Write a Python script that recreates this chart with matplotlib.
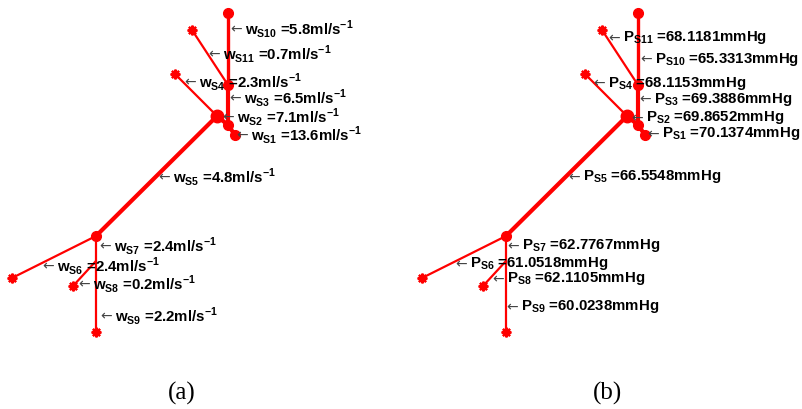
import numpy as np
import matplotlib
matplotlib.use("Agg")
import matplotlib.pyplot as plt

plt.rcParams['mathtext.fontset'] = 'custom'
plt.rcParams['mathtext.rm'] = 'Liberation Sans'
plt.rcParams['mathtext.bf'] = 'Liberation Sans:bold'
plt.rcParams['font.family'] = ['Liberation Sans', 'DejaVu Sans']

# vessel tree geometry (node x, y, y pointing down)
node_x = [235, 228, 217, 228, 228, 192, 175, 96, 12, 96, 73, 96]
node_y = [136, 126, 117, 86, 14, 31, 75, 237, 279, 262, 287, 333]

segments = ["S1", "S2", "S3", "S4", "S5", "S6", "S7", "S8", "S9", "S10", "S11"]
seg_start = [0, 1, 1, 2, 2, 7, 7, 9, 9, 3, 3]
seg_end = [1, 2, 3, 6, 7, 8, 9, 10, 11, 4, 5]
seg_width = [3.0, 3.0, 3.0, 1.6, 3.0, 1.6, 1.6, 1.6, 1.6, 2.4, 1.6]

joint_nodes = [0, 1, 2, 3, 4, 7]
joint_size = [7, 7, 9, 7, 7, 7]
end_nodes = [5, 6, 8, 10, 11]

# flow rates (ml/s) and pressures (mmHg)
flow = [13.6, 7.1, 6.5, 2.3, 4.8, 2.4, 2.4, 0.2, 2.2, 5.8, 0.7]
pressure = [70.1374, 69.8652, 69.3886, 68.1153, 66.5548, 61.0518,
            62.7767, 62.1105, 60.0238, 65.3313, 68.1181]

# label anchor points
flow_lx = [236, 222, 229, 184, 158, 42, 99, 78, 100, 230, 208]
flow_ly = [135, 117, 98, 82, 177, 266, 246, 284, 316, 29, 54]
pres_lx = [237, 221, 229, 183, 158, 45, 97, 82, 96, 230, 198]
pres_ly = [134, 118, 99, 83, 177, 264, 246, 279, 307, 59, 38]

fig = plt.figure(figsize=(8.02, 4.10), dpi=100)
ax_a = fig.add_axes([0, 0, 0.5, 1])
ax_b = fig.add_axes([0.5, 0, 0.5, 1])


def draw_tree(ax, x0):
    ax.set_xlim(x0, x0 + 401)
    ax.set_ylim(410, 0)
    ax.axis('off')
    for s, e, lw in zip(seg_start, seg_end, seg_width):
        ax.plot([node_x[s], node_x[e]], [node_y[s], node_y[e]],
                color='#ff0000', lw=lw, solid_capstyle='round', zorder=2)
    for n, ms in zip(joint_nodes, joint_size):
        ax.plot(node_x[n], node_y[n], 'o', color='#ff0000', ms=ms,
                mec='#ff0000', zorder=3)
    for n in end_nodes:
        ax.plot(node_x[n], node_y[n], marker=(8, 2, 0), color='#ff0000',
                ms=7, mew=1.6, zorder=3)


def put_label(ax, x, y, lab):
    # thin left arrow pointing at the segment, bold label right of it
    ax.text(x, y, '\u2190', family='DejaVu Sans', fontsize=10,
            color='#444444', ha='left', va='center', zorder=4)
    ax.annotate(lab, xy=(x, y), xytext=(15, 0), textcoords='offset pixels',
                fontsize=10.8, fontweight='bold', ha='left', va='center',
                zorder=4)


draw_tree(ax_a, 0)
draw_tree(ax_b, -9)

for seg, v, x, y in zip(segments, flow, flow_lx, flow_ly):
    lab = (r'$\mathbf{w}_{\mathbf{' + seg + r'}}$ =' +
           f'{v}ml/s' + r'$^{\mathbf{-1}}$')
    put_label(ax_a, x, y, lab)

for seg, v, x, y in zip(segments, pressure, pres_lx, pres_ly):
    lab = r'$\mathbf{P}_{\mathbf{' + seg + r'}}$ =' + f'{v:.4f}mmHg'
    put_label(ax_b, x, y, lab)

fig.text(182 / 802, 1 - 393 / 410, '(a)', family='Liberation Serif',
         fontsize=18, ha='center', va='center')
fig.text(607 / 802, 1 - 393 / 410, '(b)', family='Liberation Serif',
         fontsize=18, ha='center', va='center')

fig.savefig('out.png', dpi=100, facecolor='white')
